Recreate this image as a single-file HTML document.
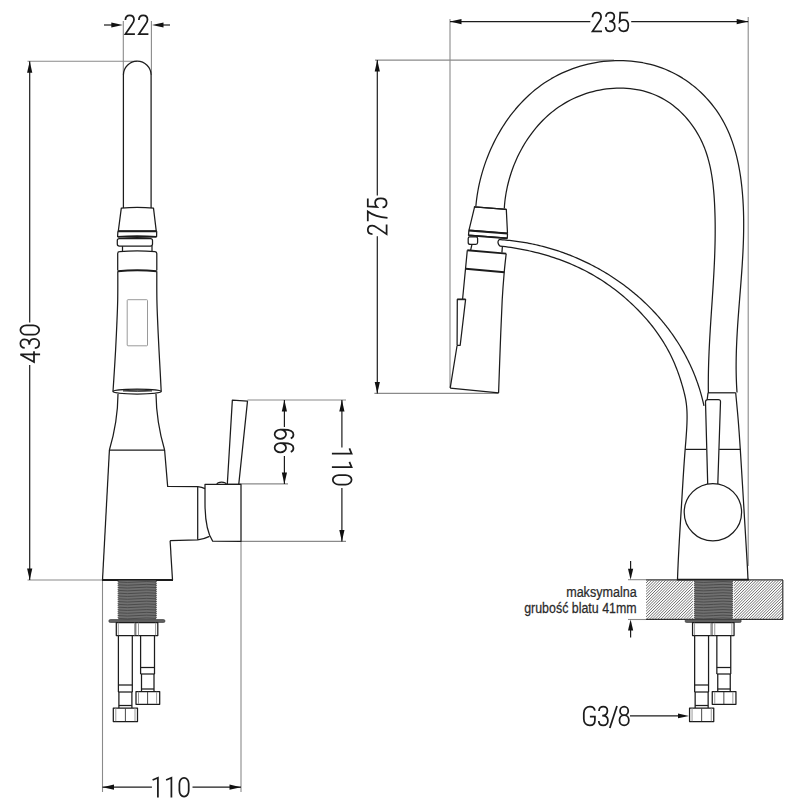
<!DOCTYPE html>
<html><head><meta charset="utf-8"><style>
html,body{margin:0;padding:0;background:#fff;width:800px;height:800px;overflow:hidden}
svg{display:block}
.k{fill:none;stroke:#1c1c1c;stroke-width:1.25;stroke-linejoin:round}
.kb{fill:none;stroke:#1c1c1c;stroke-width:1.9}
.kc{fill:none;stroke:#333;stroke-width:1.2}
.kt{fill:none;stroke:#333;stroke-width:0.9}
.gr{fill:none;stroke:#9a9a9a;stroke-width:1}
.g{fill:none;stroke:#8a8a8a;stroke-width:1.1}
.d{fill:none;stroke:#1c1c1c;stroke-width:1.2}
.ar{fill:#111;stroke:none}
.t{font-family:"Liberation Sans",sans-serif;fill:#1c1c1c}
.ts{font-family:"Liberation Sans",sans-serif;fill:#2a2a2a;stroke:#2a2a2a;stroke-width:0.25}
</style></head><body>
<svg width="800" height="800" viewBox="0 0 800 800">
<defs>
<pattern id="hatch" patternUnits="userSpaceOnUse" width="2" height="2" patternTransform="rotate(-45)">
<rect width="2" height="2" fill="#f2f2f2"/><line x1="0" y1="1" x2="2" y2="1" stroke="#8a8a8a" stroke-width="0.9"/>
</pattern>
</defs>
<line class="g" x1="27.5" y1="61.25" x2="137" y2="61.25"/>
<line class="g" x1="123.3" y1="21" x2="123.3" y2="75"/>
<line class="g" x1="151.4" y1="21" x2="151.4" y2="75"/>
<line class="g" x1="27.5" y1="580" x2="103" y2="580"/>
<line class="g" x1="102.5" y1="580" x2="102.5" y2="792"/>
<line class="g" x1="241" y1="541.4" x2="241" y2="792"/>
<line class="g" x1="247.5" y1="400" x2="346" y2="400"/>
<line class="g" x1="238.5" y1="483.9" x2="288" y2="483.9"/>
<line class="g" x1="241" y1="541.4" x2="346" y2="541.4"/>
<line class="d" x1="104" y1="25" x2="112" y2="25"/>
<path class="ar" d="M122.8,25 L111.3,27.6 L111.3,22.4 Z"/>
<line class="d" x1="170" y1="25" x2="163" y2="25"/>
<path class="ar" d="M152,25 L163.5,22.4 L163.5,27.6 Z"/>
<line class="d" x1="29.7" y1="61.25" x2="29.7" y2="322.5"/>
<line class="d" x1="29.7" y1="365" x2="29.7" y2="580"/>
<path class="ar" d="M29.7,61.25 L32.3,72.75 L27.1,72.75 Z"/>
<path class="ar" d="M29.7,580 L27.1,568.5 L32.3,568.5 Z"/>
<line class="d" x1="284.4" y1="400" x2="284.4" y2="427"/>
<line class="d" x1="284.4" y1="456" x2="284.4" y2="483.9"/>
<path class="ar" d="M284.4,400 L287,411.5 L281.8,411.5 Z"/>
<path class="ar" d="M284.4,483.9 L281.8,472.4 L287,472.4 Z"/>
<line class="d" x1="341.9" y1="400" x2="341.9" y2="447.5"/>
<line class="d" x1="341.9" y1="488" x2="341.9" y2="541.4"/>
<path class="ar" d="M341.9,400 L344.5,411.5 L339.3,411.5 Z"/>
<path class="ar" d="M341.9,541.4 L339.3,529.9 L344.5,529.9 Z"/>
<line class="d" x1="102.5" y1="787.2" x2="151.9" y2="787.2"/>
<line class="d" x1="192.5" y1="787.2" x2="241" y2="787.2"/>
<path class="ar" d="M102.5,787.2 L114,784.6 L114,789.8 Z"/>
<path class="ar" d="M241,787.2 L229.5,789.8 L229.5,784.6 Z"/>
<path class="k" d="M123.4,208 L123.4,75.1 A13.85,13.85 0 0 1 151.1,75.1 L151.1,208" />
<path class="k" d="M121.3,208.1 Q137.3,206.6 153.5,208.1 L156.25,231.1 L118.3,231.1 Z" />
<line class="kb" x1="117.9" y1="231.3" x2="156.7" y2="231.3"/>
<path class="k" d="M117.9,231.3 L117.6,236.5 Q137,238.3 156.6,236.5 L156.7,231.3" />
<path class="kb" d="M117.6,236.9 Q137,235.3 156.6,236.9" />
<path class="k" d="M119.3,238.6 L150.5,238.6 Q152.5,238.6 152.5,240.6 L152.5,244.1 Q152.5,246.1 150.5,246.1 L119.3,246.1 Q117.3,246.1 117.3,244.1 L117.3,240.6 Q117.3,238.6 119.3,238.6 Z" />
<line class="k" x1="122.5" y1="246.1" x2="122.5" y2="251.4"/>
<line class="k" x1="152" y1="246.1" x2="152" y2="251.4"/>
<path class="k" d="M117.7,270.5 L117.7,253.5 Q117.8,251.6 119.5,251.6 Q137,250.3 155,251.6 Q156.8,251.8 156.8,253.5 L156.8,270.5" />
<path class="kb" d="M117.8,271.2 Q137.3,269.2 156.8,271.2" />
<path class="k" d="M117.8,271.2 C117.78,276 117.87,291.03 117.7,300 C117.53,308.97 117.15,316.67 116.8,325 C116.45,333.33 116,342.5 115.6,350 C115.2,357.5 114.83,363.08 114.4,370 C113.97,376.92 113.23,387.92 113,391.5" />
<path class="k" d="M156.8,271.2 C156.82,276 156.73,291.03 156.9,300 C157.07,308.97 157.45,316.67 157.8,325 C158.15,333.33 158.62,342.5 159,350 C159.38,357.5 159.73,363.08 160.1,370 C160.47,376.92 161.02,387.92 161.2,391.5" />
<rect x="127.2" y="299.7" width="20.3" height="46.1" rx="0.8" class="gr"/>
<ellipse cx="137.1" cy="391.6" rx="24.1" ry="2.4" class="k"/>
<path d="M123,390.9 Q137.5,388.3 152,390.9 Q137.5,392.2 123,390.9 Z" fill="#666" stroke="#222" stroke-width="0.7"/>
<path class="k" d="M118,393.9 C117.8,418 113.5,436 109.4,450" />
<path class="k" d="M156,393.9 C156.3,418 160.5,436 164.6,450" />
<line class="k" x1="109.4" y1="450" x2="164.6" y2="450"/>
<path class="k" d="M109.4,450 L102.5,580" />
<path class="k" d="M164.6,450 L167.65,486.4 L197.7,486.65 Q202,487 205,488.6" />
<line class="k" x1="197.7" y1="486.65" x2="197.7" y2="539.8"/>
<path class="k" d="M170.1,540.7 L197.7,539.8 Q204,539.2 209.5,536.4" />
<path class="k" d="M170.1,540.7 L172.5,580" />
<line class="kb" x1="102" y1="580" x2="173" y2="580"/>
<path class="k" d="M205,484.4 L241,484.4 L241,541.4 L212.65,541.2 C208,534 205,520 205,503 Z" />
<path class="k" d="M216.8,484.4 Q217.5,482.2 221.6,482.2 Q225.7,482.2 226.4,484.4" />
<path class="k" d="M232.35,400.1 L247.5,401.1 L238.75,484.4 L227.3,484.4 Z"/>
<g id="fit"><rect x="118.4" y="580.5" width="37.7" height="39" fill="#707070"/><path d="M118.4,582 Q127,582.9 137,582 T156.1,582" stroke="#4c4c4c" stroke-width="1" fill="none"/><path d="M118.4,584.8 Q127,585.7 137,584.8 T156.1,584.8" stroke="#4c4c4c" stroke-width="1" fill="none"/><path d="M118.4,587.6 Q127,588.5 137,587.6 T156.1,587.6" stroke="#4c4c4c" stroke-width="1" fill="none"/><path d="M118.4,590.4 Q127,591.3 137,590.4 T156.1,590.4" stroke="#4c4c4c" stroke-width="1" fill="none"/><path d="M118.4,593.2 Q127,594.1 137,593.2 T156.1,593.2" stroke="#4c4c4c" stroke-width="1" fill="none"/><path d="M118.4,596 Q127,596.9 137,596 T156.1,596" stroke="#4c4c4c" stroke-width="1" fill="none"/><path d="M118.4,598.8 Q127,599.7 137,598.8 T156.1,598.8" stroke="#4c4c4c" stroke-width="1" fill="none"/><path d="M118.4,601.6 Q127,602.5 137,601.6 T156.1,601.6" stroke="#4c4c4c" stroke-width="1" fill="none"/><path d="M118.4,604.4 Q127,605.3 137,604.4 T156.1,604.4" stroke="#4c4c4c" stroke-width="1" fill="none"/><path d="M118.4,607.2 Q127,608.1 137,607.2 T156.1,607.2" stroke="#4c4c4c" stroke-width="1" fill="none"/><path d="M118.4,610 Q127,610.9 137,610 T156.1,610" stroke="#4c4c4c" stroke-width="1" fill="none"/><path d="M118.4,612.8 Q127,613.7 137,612.8 T156.1,612.8" stroke="#4c4c4c" stroke-width="1" fill="none"/><path d="M118.4,615.6 Q127,616.5 137,615.6 T156.1,615.6" stroke="#4c4c4c" stroke-width="1" fill="none"/><path d="M118.4,618.4 Q127,619.3 137,618.4 T156.1,618.4" stroke="#4c4c4c" stroke-width="1" fill="none"/><line x1="117.6" y1="581.3" x2="118.8" y2="581.3" stroke="#333" stroke-width="0.9"/><line x1="155.7" y1="581.3" x2="156.9" y2="581.3" stroke="#333" stroke-width="0.9"/><line x1="117.6" y1="583.3" x2="118.8" y2="583.3" stroke="#333" stroke-width="0.9"/><line x1="155.7" y1="583.3" x2="156.9" y2="583.3" stroke="#333" stroke-width="0.9"/><line x1="117.6" y1="585.3" x2="118.8" y2="585.3" stroke="#333" stroke-width="0.9"/><line x1="155.7" y1="585.3" x2="156.9" y2="585.3" stroke="#333" stroke-width="0.9"/><line x1="117.6" y1="587.3" x2="118.8" y2="587.3" stroke="#333" stroke-width="0.9"/><line x1="155.7" y1="587.3" x2="156.9" y2="587.3" stroke="#333" stroke-width="0.9"/><line x1="117.6" y1="589.3" x2="118.8" y2="589.3" stroke="#333" stroke-width="0.9"/><line x1="155.7" y1="589.3" x2="156.9" y2="589.3" stroke="#333" stroke-width="0.9"/><line x1="117.6" y1="591.3" x2="118.8" y2="591.3" stroke="#333" stroke-width="0.9"/><line x1="155.7" y1="591.3" x2="156.9" y2="591.3" stroke="#333" stroke-width="0.9"/><line x1="117.6" y1="593.3" x2="118.8" y2="593.3" stroke="#333" stroke-width="0.9"/><line x1="155.7" y1="593.3" x2="156.9" y2="593.3" stroke="#333" stroke-width="0.9"/><line x1="117.6" y1="595.3" x2="118.8" y2="595.3" stroke="#333" stroke-width="0.9"/><line x1="155.7" y1="595.3" x2="156.9" y2="595.3" stroke="#333" stroke-width="0.9"/><line x1="117.6" y1="597.3" x2="118.8" y2="597.3" stroke="#333" stroke-width="0.9"/><line x1="155.7" y1="597.3" x2="156.9" y2="597.3" stroke="#333" stroke-width="0.9"/><line x1="117.6" y1="599.3" x2="118.8" y2="599.3" stroke="#333" stroke-width="0.9"/><line x1="155.7" y1="599.3" x2="156.9" y2="599.3" stroke="#333" stroke-width="0.9"/><line x1="117.6" y1="601.3" x2="118.8" y2="601.3" stroke="#333" stroke-width="0.9"/><line x1="155.7" y1="601.3" x2="156.9" y2="601.3" stroke="#333" stroke-width="0.9"/><line x1="117.6" y1="603.3" x2="118.8" y2="603.3" stroke="#333" stroke-width="0.9"/><line x1="155.7" y1="603.3" x2="156.9" y2="603.3" stroke="#333" stroke-width="0.9"/><line x1="117.6" y1="605.3" x2="118.8" y2="605.3" stroke="#333" stroke-width="0.9"/><line x1="155.7" y1="605.3" x2="156.9" y2="605.3" stroke="#333" stroke-width="0.9"/><line x1="117.6" y1="607.3" x2="118.8" y2="607.3" stroke="#333" stroke-width="0.9"/><line x1="155.7" y1="607.3" x2="156.9" y2="607.3" stroke="#333" stroke-width="0.9"/><line x1="117.6" y1="609.3" x2="118.8" y2="609.3" stroke="#333" stroke-width="0.9"/><line x1="155.7" y1="609.3" x2="156.9" y2="609.3" stroke="#333" stroke-width="0.9"/><line x1="117.6" y1="611.3" x2="118.8" y2="611.3" stroke="#333" stroke-width="0.9"/><line x1="155.7" y1="611.3" x2="156.9" y2="611.3" stroke="#333" stroke-width="0.9"/><line x1="117.6" y1="613.3" x2="118.8" y2="613.3" stroke="#333" stroke-width="0.9"/><line x1="155.7" y1="613.3" x2="156.9" y2="613.3" stroke="#333" stroke-width="0.9"/><line x1="117.6" y1="615.3" x2="118.8" y2="615.3" stroke="#333" stroke-width="0.9"/><line x1="155.7" y1="615.3" x2="156.9" y2="615.3" stroke="#333" stroke-width="0.9"/><line x1="117.6" y1="617.3" x2="118.8" y2="617.3" stroke="#333" stroke-width="0.9"/><line x1="155.7" y1="617.3" x2="156.9" y2="617.3" stroke="#333" stroke-width="0.9"/><rect x="108.8" y="619.5" width="56.2" height="3" rx="1.5" fill="#5e5e5e" stroke="#333" stroke-width="0.6"/><rect x="116.3" y="622.6" width="41.5" height="12.9" class="k"/><line class="gr" x1="118.3" y1="622.8" x2="118.3" y2="635.3"/><line class="gr" x1="155.6" y1="622.8" x2="155.6" y2="635.3"/><line class="gr" x1="134.6" y1="622.8" x2="134.6" y2="635.3"/><line class="kt" x1="135.8" y1="622.8" x2="135.8" y2="635.3"/><line class="gr" x1="138.5" y1="622.8" x2="138.5" y2="635.3"/><path class="k" d="M118.4,635.5 L118.4,692 M132.3,635.5 L132.3,692"/><line class="k" x1="118.4" y1="685" x2="132.3" y2="685"/><line class="k" x1="118.4" y1="692" x2="132.3" y2="692"/><path class="k" d="M118.9,692 L118.9,708 M131.9,692 L131.9,708"/><line class="k" x1="118.9" y1="705.5" x2="131.9" y2="705.5"/><rect class="k" x="113.3" y="708" width="24.2" height="13.5"/><line class="gr" x1="115.8" y1="708.3" x2="115.8" y2="721.2"/><line class="kt" x1="125.4" y1="708.3" x2="125.4" y2="721.2"/><line class="gr" x1="135.0" y1="708.3" x2="135.0" y2="721.2"/><path class="k" d="M140.6,635.5 L140.6,674 M154.5,635.5 L154.5,674"/><line class="k" x1="140.6" y1="667.5" x2="154.5" y2="667.5"/><line class="k" x1="140.6" y1="674" x2="154.5" y2="674"/><path class="k" d="M141.5,674 L141.5,691.5 M154,674 L154,691.5"/><line class="k" x1="141.5" y1="689" x2="154" y2="689"/><rect class="k" x="136" y="691.5" width="23.7" height="12.8"/><line class="gr" x1="138.5" y1="691.8" x2="138.5" y2="704.0"/><line class="kt" x1="147.6" y1="691.8" x2="147.6" y2="704.0"/><line class="gr" x1="156.6" y1="691.8" x2="156.6" y2="704.0"/></g>
<line class="g" x1="450" y1="19" x2="450" y2="387.5"/>
<line class="g" x1="748.2" y1="17" x2="748.2" y2="566"/>
<line class="g" x1="375" y1="60.1" x2="614" y2="60.1"/>
<line class="g" x1="374.4" y1="393.4" x2="498" y2="393.4"/>
<line class="g" x1="628" y1="579.7" x2="646" y2="579.7"/>
<line class="g" x1="628" y1="619.5" x2="646" y2="619.5"/>
<line class="d" x1="450" y1="21.6" x2="590.3" y2="21.6"/>
<line class="d" x1="631.2" y1="21.6" x2="748.2" y2="21.6"/>
<path class="ar" d="M450,21.6 L461.5,19 L461.5,24.2 Z"/>
<path class="ar" d="M748.2,21.6 L736.7,24.2 L736.7,19 Z"/>
<line class="d" x1="377.3" y1="60.1" x2="377.3" y2="195.6"/>
<line class="d" x1="377.3" y1="236.3" x2="377.3" y2="393.4"/>
<path class="ar" d="M377.3,60.1 L379.9,71.6 L374.7,71.6 Z"/>
<path class="ar" d="M377.3,393.4 L374.7,381.9 L379.9,381.9 Z"/>
<line class="d" x1="630.6" y1="561" x2="630.6" y2="570"/>
<path class="ar" d="M630.6,579.7 L628,568.7 L633.2,568.7 Z"/>
<line class="d" x1="630.6" y1="637.5" x2="630.6" y2="629"/>
<path class="ar" d="M630.6,619.6 L633.2,630.6 L628,630.6 Z"/>
<line class="d" x1="630" y1="715.9" x2="680" y2="715.9"/>
<path class="ar" d="M689,715.9 L678,718.3 L678,713.5 Z"/>
<clipPath id="c1"><rect x="646" y="580.2" width="46.9" height="39"/></clipPath>
<path clip-path="url(#c1)" d="M607,619.2 L646,580.2 M609.83,619.2 L648.83,580.2 M612.66,619.2 L651.66,580.2 M615.49,619.2 L654.49,580.2 M618.32,619.2 L657.32,580.2 M621.15,619.2 L660.15,580.2 M623.98,619.2 L662.98,580.2 M626.81,619.2 L665.81,580.2 M629.64,619.2 L668.64,580.2 M632.47,619.2 L671.47,580.2 M635.3,619.2 L674.3,580.2 M638.13,619.2 L677.13,580.2 M640.96,619.2 L679.96,580.2 M643.79,619.2 L682.79,580.2 M646.62,619.2 L685.62,580.2 M649.45,619.2 L688.45,580.2 M652.28,619.2 L691.28,580.2 M655.11,619.2 L694.11,580.2 M657.94,619.2 L696.94,580.2 M660.77,619.2 L699.77,580.2 M663.6,619.2 L702.6,580.2 M666.43,619.2 L705.43,580.2 M669.26,619.2 L708.26,580.2 M672.09,619.2 L711.09,580.2 M674.92,619.2 L713.92,580.2 M677.75,619.2 L716.75,580.2 M680.58,619.2 L719.58,580.2 M683.41,619.2 L722.41,580.2 M686.24,619.2 L725.24,580.2 M689.07,619.2 L728.07,580.2 M691.9,619.2 L730.9,580.2" stroke="#6e6e6e" stroke-width="1.0" fill="none"/>
<clipPath id="c2"><rect x="733.9" y="580.2" width="48.9" height="39"/></clipPath>
<path clip-path="url(#c2)" d="M694.9,619.2 L733.9,580.2 M697.73,619.2 L736.73,580.2 M700.56,619.2 L739.56,580.2 M703.39,619.2 L742.39,580.2 M706.22,619.2 L745.22,580.2 M709.05,619.2 L748.05,580.2 M711.88,619.2 L750.88,580.2 M714.71,619.2 L753.71,580.2 M717.54,619.2 L756.54,580.2 M720.37,619.2 L759.37,580.2 M723.2,619.2 L762.2,580.2 M726.03,619.2 L765.03,580.2 M728.86,619.2 L767.86,580.2 M731.69,619.2 L770.69,580.2 M734.52,619.2 L773.52,580.2 M737.35,619.2 L776.35,580.2 M740.18,619.2 L779.18,580.2 M743.01,619.2 L782.01,580.2 M745.84,619.2 L784.84,580.2 M748.67,619.2 L787.67,580.2 M751.5,619.2 L790.5,580.2 M754.33,619.2 L793.33,580.2 M757.16,619.2 L796.16,580.2 M759.99,619.2 L798.99,580.2 M762.82,619.2 L801.82,580.2 M765.65,619.2 L804.65,580.2 M768.48,619.2 L807.48,580.2 M771.31,619.2 L810.31,580.2 M774.14,619.2 L813.14,580.2 M776.97,619.2 L815.97,580.2 M779.8,619.2 L818.8,580.2 M782.63,619.2 L821.63,580.2" stroke="#6e6e6e" stroke-width="1.0" fill="none"/>
<line class="kc" x1="646" y1="579.9" x2="783" y2="579.9"/>
<line class="kc" x1="646" y1="619.4" x2="783" y2="619.4"/>
<line class="kc" x1="782.8" y1="579.9" x2="782.8" y2="619.4"/>
<use href="#fit" transform="translate(576.25,0)"/>
<path class="k" d="M475.89,206.05 L476.26,202.31 L476.71,198.55 L477.25,194.78 L477.88,191 L478.6,187.21 L479.4,183.43 L480.29,179.65 L481.27,175.87 L482.33,172.1 L483.48,168.34 L484.71,164.6 L486.02,160.87 L487.42,157.16 L488.9,153.48 L490.47,149.83 L492.11,146.2 L493.84,142.61 L495.65,139.06 L497.54,135.55 L499.5,132.08 L501.55,128.66 L503.67,125.28 L505.88,121.96 L508.16,118.7 L510.51,115.49 L512.95,112.35 L515.46,109.28 L518.04,106.27 L520.7,103.33 L523.44,100.47 L526.24,97.69 L529.12,94.99 L532.08,92.38 L535.1,89.85 L538.2,87.42 L541.37,85.08 L544.61,82.84 L547.92,80.7 L551.29,78.66 L554.73,76.73 L558.24,74.9 L561.8,73.18 L565.41,71.56 L569.08,70.06 L572.78,68.66 L576.54,67.37 L580.32,66.19 L584.15,65.11 L588,64.15 L591.88,63.31 L595.78,62.57 L599.69,61.95 L603.63,61.44 L607.57,61.04 L611.52,60.76 L615.47,60.6 L619.42,60.55 L623.36,60.62 L627.3,60.8 L631.22,61.11 L635.12,61.53 L639.01,62.07 L642.87,62.74 L646.7,63.52 L650.49,64.43 L654.25,65.46 L657.97,66.62 L661.65,67.89 L665.28,69.29 L668.85,70.82 L672.37,72.47 L675.83,74.25 L679.23,76.15 L682.56,78.16 L685.82,80.29 L689.01,82.53 L692.12,84.88 L695.16,87.32 L698.12,89.87 L700.99,92.52 L703.78,95.25 L706.47,98.08 L709.07,100.99 L711.58,103.99 L713.99,107.06 L716.29,110.21 L718.49,113.43 L720.59,116.72 L722.57,120.08 L724.43,123.49 L726.19,126.96 L727.84,130.49 L729.38,134.07 L730.83,137.7 L732.17,141.38 L733.42,145.09 L734.58,148.84 L735.65,152.63 L736.64,156.45 L737.55,160.3 L738.38,164.18 L739.13,168.07 L739.82,171.99 L740.44,175.92 L740.99,179.86 L741.48,183.81 L741.92,187.77 L742.3,191.73 L742.63,195.68 L742.92,199.64 L743.15,203.6 L743.34,207.56 L743.49,211.52 L743.59,215.48 L743.66,219.44 L743.68,223.4 L743.67,227.36 L743.63,231.32 L743.56,235.28 L743.46,239.24 L743.33,243.2 L743.17,247.16 L742.99,251.11 L742.79,255.07 L742.56,259.02 L742.32,262.98 L742.07,266.93 L741.8,270.89 L741.51,274.84 L741.22,278.79 L740.92,282.74 L740.61,286.68 L740.3,290.63 L739.98,294.58 L739.67,298.52 L739.35,302.46 L739.04,306.4 L738.74,310.34 L738.44,314.28 L738.15,318.21 L737.88,322.14 L737.61,326.07 L737.36,330 L737.13,333.93 L736.92,337.85 L736.73,341.77 L736.56,345.69 L736.41,349.61 L736.3,353.52 L736.21,357.43 L736.15,361.34 L736.12,365.25 L736.13,369.15 L736.18,373.05 L736.26,376.95 L736.39,380.84 L736.55,384.73 L736.76,388.62 L737.02,392.5" />
<path class="k" d="M504.3,208.49 L504.51,205.28 L504.81,202.04 L505.19,198.79 L505.66,195.54 L506.21,192.27 L506.84,189.01 L507.55,185.74 L508.35,182.48 L509.22,179.22 L510.18,175.97 L511.21,172.74 L512.33,169.52 L513.52,166.32 L514.79,163.14 L516.14,159.98 L517.57,156.86 L519.07,153.76 L520.65,150.7 L522.31,147.68 L524.04,144.7 L525.85,141.77 L527.73,138.88 L529.68,136.04 L531.71,133.26 L533.81,130.53 L535.98,127.86 L538.22,125.26 L540.54,122.72 L542.92,120.25 L545.37,117.85 L547.9,115.53 L550.49,113.29 L553.15,111.13 L555.88,109.05 L558.68,107.07 L561.55,105.17 L564.47,103.37 L567.46,101.66 L570.5,100.05 L573.6,98.53 L576.74,97.12 L579.93,95.8 L583.15,94.58 L586.41,93.46 L589.71,92.44 L593.03,91.53 L596.37,90.72 L599.73,90.02 L603.11,89.42 L606.49,88.93 L609.89,88.55 L613.29,88.28 L616.68,88.12 L620.07,88.07 L623.45,88.13 L626.82,88.31 L630.17,88.6 L633.49,89.01 L636.8,89.54 L640.07,90.18 L643.31,90.95 L646.5,91.83 L649.66,92.84 L652.77,93.97 L655.83,95.23 L658.84,96.61 L661.79,98.11 L664.67,99.74 L667.49,101.49 L670.25,103.35 L672.94,105.32 L675.55,107.4 L678.1,109.58 L680.57,111.86 L682.96,114.23 L685.26,116.69 L687.49,119.24 L689.63,121.86 L691.68,124.56 L693.65,127.33 L695.52,130.17 L697.29,133.07 L698.97,136.03 L700.55,139.04 L702.03,142.11 L703.4,145.21 L704.68,148.36 L705.85,151.55 L706.92,154.78 L707.91,158.04 L708.81,161.33 L709.63,164.64 L710.37,167.99 L711.04,171.36 L711.64,174.74 L712.17,178.15 L712.65,181.57 L713.07,185 L713.43,188.45 L713.75,191.9 L714.03,195.35 L714.27,198.81 L714.48,202.27 L714.65,205.72 L714.8,209.17 L714.92,212.62 L715.02,216.05 L715.1,219.49 L715.15,222.92 L715.18,226.34 L715.19,229.76 L715.18,233.18 L715.15,236.59 L715.11,240 L715.04,243.41 L714.96,246.81 L714.86,250.21 L714.75,253.61 L714.63,257 L714.49,260.39 L714.34,263.78 L714.17,267.17 L714,270.56 L713.82,273.94 L713.63,277.33 L713.43,280.71 L713.23,284.09 L713.02,287.47 L712.8,290.85 L712.58,294.23 L712.36,297.61 L712.14,300.99 L711.91,304.37 L711.68,307.74 L711.45,311.12 L711.23,314.51 L711,317.89 L710.78,321.27 L710.57,324.65 L710.35,328.04 L710.15,331.43 L709.95,334.82 L709.75,338.21 L709.57,341.6 L709.39,345 L709.23,348.4 L709.07,351.8 L708.93,355.21 L708.8,358.61 L708.68,362.03 L708.58,365.44 L708.49,368.86 L708.42,372.29 L708.36,375.71 L708.33,379.15 L708.31,382.59 L708.31,386.03 L708.33,389.48 L708.38,392.93" />
<line class="k" x1="708" y1="392.8" x2="735.7" y2="392.8"/>
<line class="k" x1="708" y1="392.8" x2="707.2" y2="399.6"/>
<path class="k" d="M735.7,392.8 C736.12,397.33 737.43,410.57 738.2,420 C738.97,429.43 739.38,435.23 740.3,449.4 C741.22,463.57 742.58,486.57 743.7,505 C744.82,523.43 746.28,547.58 747,560 C747.72,572.42 747.83,576.25 748,579.5" />
<path class="k" d="M498.93,239.63 L500.71,239.73 L502.48,239.85 L504.26,239.98 L506.03,240.12 L507.8,240.28 L509.57,240.46 L511.34,240.64 L513.11,240.85 L514.87,241.06 L516.64,241.29 L518.4,241.54 L520.16,241.8 L521.92,242.07 L523.67,242.36 L525.43,242.66 L527.18,242.97 L528.93,243.3 L530.67,243.65 L532.42,244 L534.16,244.37 L535.9,244.75 L537.63,245.15 L539.37,245.56 L541.1,245.99 L542.82,246.42 L544.54,246.87 L546.26,247.34 L547.98,247.81 L549.69,248.3 L551.4,248.81 L553.11,249.32 L554.81,249.85 L556.5,250.4 L558.2,250.95 L559.89,251.52 L561.57,252.1 L563.25,252.7 L564.93,253.3 L566.6,253.92 L568.26,254.56 L569.93,255.2 L571.58,255.86 L573.23,256.53 L574.88,257.21 L576.52,257.91 L578.16,258.61 L579.79,259.33 L581.41,260.06 L583.03,260.81 L584.64,261.56 L586.25,262.33 L587.85,263.11 L589.45,263.91 L591.04,264.71 L592.62,265.53 L594.2,266.35 L595.77,267.19 L597.34,268.05 L598.89,268.91 L600.44,269.78 L601.99,270.67 L603.53,271.57 L605.06,272.48 L606.58,273.4 L608.09,274.33 L609.6,275.28 L611.1,276.23 L612.6,277.2 L614.08,278.18 L615.56,279.17 L617.03,280.17 L618.49,281.18 L619.95,282.2 L621.4,283.23 L622.83,284.28 L624.26,285.33 L625.68,286.4 L627.1,287.48 L628.5,288.56 L629.9,289.66 L631.28,290.77 L632.66,291.89 L634.03,293.02 L635.39,294.16 L636.74,295.31 L638.08,296.47 L639.41,297.64 L640.73,298.83 L642.05,300.02 L643.35,301.22 L644.64,302.43 L645.92,303.66 L647.2,304.89 L648.46,306.13 L649.71,307.38 L650.95,308.65 L652.19,309.92 L653.41,311.2 L654.62,312.49 L655.82,313.79 L657.01,315.1 L658.18,316.43 L659.35,317.76 L660.51,319.1 L661.65,320.44 L662.78,321.8 L663.91,323.17 L665.02,324.55 L666.12,325.93 L667.2,327.33 L668.28,328.74 L669.34,330.15 L670.39,331.57 L671.43,333 L672.46,334.45 L673.47,335.9 L674.47,337.35 L675.46,338.82 L676.44,340.3 L677.4,341.78 L678.35,343.28 L679.29,344.78 L680.22,346.29 L681.13,347.81 L682.03,349.34 L682.91,350.87 L683.78,352.42 L684.64,353.97 L685.49,355.53 L686.32,357.1 L687.13,358.68 L687.94,360.26 L688.73,361.86 L689.5,363.46 L690.26,365.07 L691.01,366.69 L691.74,368.31 L692.46,369.95 L693.16,371.59 L693.85,373.23 L694.52,374.89 L695.18,376.56 L695.82,378.23 L696.45,379.91 L697.06,381.59 L697.66,383.29 L698.24,384.99 L698.8,386.7 L699.36,388.41 L699.89,390.14 L700.41,391.87 L700.91,393.6 L701.4,395.35 L701.87,397.1 L702.32,398.86 L702.76,400.62 L703.18,402.4 L703.59,404.18 L703.98,405.96" />
<path class="k" d="M500.05,246.08 L502.74,246.38 L505.44,246.71 L508.15,247.07 L510.86,247.45 L513.57,247.87 L516.28,248.31 L519,248.79 L521.72,249.3 L524.44,249.83 L527.15,250.39 L529.86,250.99 L532.57,251.61 L535.27,252.27 L537.97,252.95 L540.65,253.66 L543.33,254.4 L546,255.17 L548.66,255.97 L551.31,256.8 L553.94,257.66 L556.56,258.55 L559.17,259.46 L561.76,260.41 L564.33,261.38 L566.88,262.39 L569.42,263.42 L571.94,264.49 L574.45,265.58 L576.94,266.71 L579.41,267.87 L581.86,269.07 L584.31,270.29 L586.73,271.55 L589.14,272.84 L591.53,274.17 L593.91,275.53 L596.27,276.93 L598.62,278.36 L600.95,279.82 L603.27,281.33 L605.57,282.86 L607.85,284.44 L610.12,286.04 L612.37,287.68 L614.59,289.35 L616.8,291.05 L618.99,292.78 L621.15,294.53 L623.29,296.32 L625.41,298.14 L627.5,299.98 L629.57,301.84 L631.61,303.73 L633.63,305.65 L635.61,307.59 L637.57,309.55 L639.5,311.53 L641.4,313.54 L643.27,315.56 L645.11,317.61 L646.92,319.68 L648.69,321.77 L650.44,323.88 L652.15,326.01 L653.82,328.17 L655.46,330.35 L657.07,332.56 L658.64,334.79 L660.17,337.04 L661.67,339.32 L663.14,341.63 L664.56,343.96 L665.95,346.31 L667.29,348.7 L668.6,351.11 L669.87,353.54 L671.1,356.01 L672.29,358.5 L673.44,361.03 L674.55,363.57 L675.61,366.15 L676.64,368.74 L677.63,371.36 L678.58,373.98 L679.49,376.63 L680.36,379.28 L681.2,381.94 L681.99,384.6 L682.76,387.26 L683.48,389.93 L684.17,392.59 L684.81,395.25 L685.39,397.92 L685.88,400.6 L686.28,403.3 L686.58,406.01 L686.81,408.73 L686.97,411.47 L687.05,414.22 L687.08,416.97 L687.05,419.74 L686.98,422.5 L686.87,425.27 L686.73,428.04 L686.57,430.8 L686.38,433.57 L686.18,436.33 L685.98,439.09 L685.76,441.84 L685.54,444.6 L685.32,447.35 L685.1,450.11 L684.89,452.86 L684.68,455.61 L684.48,458.37 L684.28,461.12 L684.09,463.87 L683.9,466.62 L683.72,469.37 L683.53,472.12 L683.36,474.88 L683.18,477.63 L683.01,480.38 L682.84,483.13 L682.67,485.88 L682.5,488.63 L682.33,491.38 L682.16,494.13 L682,496.88 L681.83,499.63 L681.66,502.38 L681.49,505.13 L681.32,507.88 L681.15,510.64 L680.98,513.39 L680.81,516.14 L680.64,518.89 L680.47,521.65 L680.3,524.4 L680.13,527.15 L679.97,529.91 L679.8,532.66 L679.64,535.41 L679.47,538.17 L679.31,540.92 L679.16,543.68 L679,546.43 L678.85,549.19 L678.71,551.94 L678.56,554.7 L678.42,557.45 L678.29,560.21 L678.16,562.96 L678.04,565.72 L677.92,568.48 L677.8,571.23 L677.7,573.99 L677.59,576.74 L677.5,579.5" />
<path class="k" d="M499,239.6 Q496.5,242.5 500,246.2" />
<line class="k" x1="685.2" y1="449.4" x2="706.2" y2="449.4"/>
<line class="k" x1="719.2" y1="449.4" x2="740.6" y2="449.4"/>
<path class="k" d="M707.7,484 L705.5,401.8 Q705.5,399.5 707.8,399.5 L718.3,399.5 Q720.6,399.5 720.5,401.8 L717.8,484" />
<circle cx="712.9" cy="512.2" r="28.7" class="k" fill="#fff"/>
<line class="kb" x1="677" y1="579.6" x2="749" y2="579.6"/>
<path class="k" d="M476.3,206.8 L474.4,206.9 L506.25,209.4" />
<path class="k" d="M474.6,206.9 L506.3,209.4 L507.5,233.2 L469,230.2 Z"/>
<line class="kb" x1="468.7" y1="230.5" x2="507.5" y2="233.6"/>
<path class="k" d="M468.9,230.5 L468.5,235.2 L507.3,238.2 L507.5,233.6" />
<line class="kb" x1="468.5" y1="235.4" x2="507.3" y2="238.4"/>
<path class="k" d="M469.7,236.8 L476,236.8 Q477.6,236.8 477.6,238.5 L477.6,242.6 Q477.6,244.4 475.8,244.4 L470.4,244.4 Q468.2,244.4 468.2,242.4 L468.2,238.6 Q468.2,236.8 469.7,236.8 Z" />
<line class="k" x1="471.9" y1="244.6" x2="470.6" y2="250.4"/>
<line class="k" x1="502.4" y1="246.5" x2="501.9" y2="252.6"/>
<path class="kb" d="M467.3,250.3 L506.2,253.6" />
<path class="kb" d="M465.6,268.8 L504.4,272.2" />
<path class="k" d="M467.3,250.3 L462.5,300 M450.2,388.1 L457,346" />
<path class="k" d="M506.2,253.6 C505.87,256.75 504.87,264.77 504.2,272.5 C503.53,280.23 502.85,287.92 502.2,300 C501.55,312.08 500.9,329.53 500.3,345 C499.7,360.47 498.88,384.83 498.6,392.8 L450.2,388.1" />
<path class="k" d="M457.3,299.4 L465.6,299.4 L460.2,345.3 L457.1,345.3 Z" />
<rect x="457.3" y="298.6" width="8.1" height="1.6" fill="#222"/>
<g transform="translate(124.50,35.00)" fill="none" stroke="#1c1c1c" stroke-width="1.75" stroke-linejoin="miter" stroke-linecap="butt"><path transform="translate(-1.60,-20.6)" d="M2.5,5.6 C2.5,2.7 4.4,0.9 6.8,0.9 C9.3,0.9 11.1,2.7 11.1,5.4 C11.1,7.3 10.2,8.6 9,10.1 L2.5,19.7 L12.0,19.7"/><path transform="translate(11.90,-20.6)" d="M2.5,5.6 C2.5,2.7 4.4,0.9 6.8,0.9 C9.3,0.9 11.1,2.7 11.1,5.4 C11.1,7.3 10.2,8.6 9,10.1 L2.5,19.7 L12.0,19.7"/></g>
<g transform="translate(591.60,32.20)" fill="none" stroke="#1c1c1c" stroke-width="1.75" stroke-linejoin="miter" stroke-linecap="butt"><path transform="translate(-1.60,-20.6)" d="M2.5,5.6 C2.5,2.7 4.4,0.9 6.8,0.9 C9.3,0.9 11.1,2.7 11.1,5.4 C11.1,7.3 10.2,8.6 9,10.1 L2.5,19.7 L12.0,19.7"/><path transform="translate(11.90,-20.6)" d="M2.4,5.2 C2.4,2.5 4.3,0.9 6.7,0.9 C9.1,0.9 10.8,2.5 10.8,5 C10.8,7.8 8.8,9.8 5.6,9.8 M5.6,9.8 C9.2,9.8 11.3,11.9 11.3,14.8 C11.3,17.8 9.3,19.7 6.7,19.7 C4,19.7 2.2,18 2.2,15.3"/><path transform="translate(25.40,-20.6)" d="M11.2,0.9 L3.2,0.9 L2.7,10.0 C3.8,8.7 5.2,8.2 6.8,8.2 C9.5,8.2 11.3,10.5 11.3,13.9 C11.3,17.4 9.4,19.7 6.7,19.7 C4.2,19.7 2.4,18 2.2,15.6"/></g>
<g transform="translate(152.20,797.50)" fill="none" stroke="#1c1c1c" stroke-width="1.75" stroke-linejoin="miter" stroke-linecap="butt"><path transform="translate(-1.90,-20.6)" d="M2.3,3.1 L7.6,0.9 L7.6,20.6"/><path transform="translate(11.60,-20.6)" d="M2.3,3.1 L7.6,0.9 L7.6,20.6"/><path transform="translate(25.10,-20.6)" d="M2.1,6.9 A4.65,6 0 0 1 11.4,6.9 L11.4,13.7 A4.65,6 0 0 1 2.1,13.7 Z"/></g>
<g transform="translate(40.10,362.90) rotate(-90)" fill="none" stroke="#1c1c1c" stroke-width="1.75" stroke-linejoin="miter" stroke-linecap="butt"><path transform="translate(-0.90,-20.6)" d="M9.3,20.6 L9.3,0.9 L1.8,14.5 L12.6,14.5"/><path transform="translate(12.60,-20.6)" d="M2.4,5.2 C2.4,2.5 4.3,0.9 6.7,0.9 C9.1,0.9 10.8,2.5 10.8,5 C10.8,7.8 8.8,9.8 5.6,9.8 M5.6,9.8 C9.2,9.8 11.3,11.9 11.3,14.8 C11.3,17.8 9.3,19.7 6.7,19.7 C4,19.7 2.2,18 2.2,15.3"/><path transform="translate(26.10,-20.6)" d="M2.1,6.9 A4.65,6 0 0 1 11.4,6.9 L11.4,13.7 A4.65,6 0 0 1 2.1,13.7 Z"/></g>
<g transform="translate(387.50,235.00) rotate(-90)" fill="none" stroke="#1c1c1c" stroke-width="1.75" stroke-linejoin="miter" stroke-linecap="butt"><path transform="translate(-1.60,-20.6)" d="M2.5,5.6 C2.5,2.7 4.4,0.9 6.8,0.9 C9.3,0.9 11.1,2.7 11.1,5.4 C11.1,7.3 10.2,8.6 9,10.1 L2.5,19.7 L12.0,19.7"/><path transform="translate(11.90,-20.6)" d="M1.8,0.9 L11.6,0.9 C8.2,5.5 5.8,12 5.2,20.6"/><path transform="translate(25.40,-20.6)" d="M11.2,0.9 L3.2,0.9 L2.7,10.0 C3.8,8.7 5.2,8.2 6.8,8.2 C9.5,8.2 11.3,10.5 11.3,13.9 C11.3,17.4 9.4,19.7 6.7,19.7 C4.2,19.7 2.4,18 2.2,15.6"/></g>
<g transform="translate(273.75,428.75) rotate(90)" fill="none" stroke="#1c1c1c" stroke-width="1.75" stroke-linejoin="miter" stroke-linecap="butt"><path transform="translate(-1.30,-20.6)" d="M11.0,3.6 C10.4,1.9 9,0.9 7.1,0.9 C4,0.9 2.15,4.5 2.15,11 L2.15,14 M2.15,14 A4.6,5.7 0 0 1 11.35,14 A4.6,5.7 0 0 1 2.15,14 Z"/><path transform="translate(12.20,-20.6)" d="M11.0,3.6 C10.4,1.9 9,0.9 7.1,0.9 C4,0.9 2.15,4.5 2.15,11 L2.15,14 M2.15,14 A4.6,5.7 0 0 1 11.35,14 A4.6,5.7 0 0 1 2.15,14 Z"/></g>
<g transform="translate(331.90,448.00) rotate(90)" fill="none" stroke="#1c1c1c" stroke-width="1.75" stroke-linejoin="miter" stroke-linecap="butt"><path transform="translate(-1.90,-20.6)" d="M2.3,3.1 L7.6,0.9 L7.6,20.6"/><path transform="translate(11.60,-20.6)" d="M2.3,3.1 L7.6,0.9 L7.6,20.6"/><path transform="translate(25.10,-20.6)" d="M2.1,6.9 A4.65,6 0 0 1 11.4,6.9 L11.4,13.7 A4.65,6 0 0 1 2.1,13.7 Z"/></g>
<g transform="translate(582.90,726.30)" fill="none" stroke="#1c1c1c" stroke-width="1.75" stroke-linejoin="miter" stroke-linecap="butt"><path transform="translate(-0.90,-20.6)" d="M12.9,5.0 C12.5,2.4 10.6,0.9 8.0,0.9 C4.4,0.9 1.8,3.2 1.8,7.5 L1.8,13.1 C1.8,17.4 4.4,19.7 7.7,19.7 C10.9,19.7 12.9,17.8 12.9,14.2 L12.9,11.0 L7.9,11.0"/><path transform="translate(13.70,-20.6)" d="M2.4,5.2 C2.4,2.5 4.3,0.9 6.7,0.9 C9.1,0.9 10.8,2.5 10.8,5 C10.8,7.8 8.8,9.8 5.6,9.8 M5.6,9.8 C9.2,9.8 11.3,11.9 11.3,14.8 C11.3,17.8 9.3,19.7 6.7,19.7 C4,19.7 2.2,18 2.2,15.3"/><path transform="translate(25.70,-20.6)" d="M1.2,22.2 L8.4,0.3"/><path transform="translate(34.50,-20.6)" d="M6.75,0.9 A4.1,4.3 0 0 1 6.75,9.5 A4.1,4.3 0 0 1 6.75,0.9 Z M6.75,9.5 A4.7,5.1 0 0 1 6.75,19.7 A4.7,5.1 0 0 1 6.75,9.5 Z"/></g>
<text class="ts" transform="translate(636.7,596.5) scale(0.85,1)" text-anchor="end" font-size="14.8">maksymalna</text>
<text class="ts" transform="translate(636.7,612.7) scale(0.84,1)" text-anchor="end" font-size="14.8">grubość blatu 41mm</text>
</svg>
</body></html>
